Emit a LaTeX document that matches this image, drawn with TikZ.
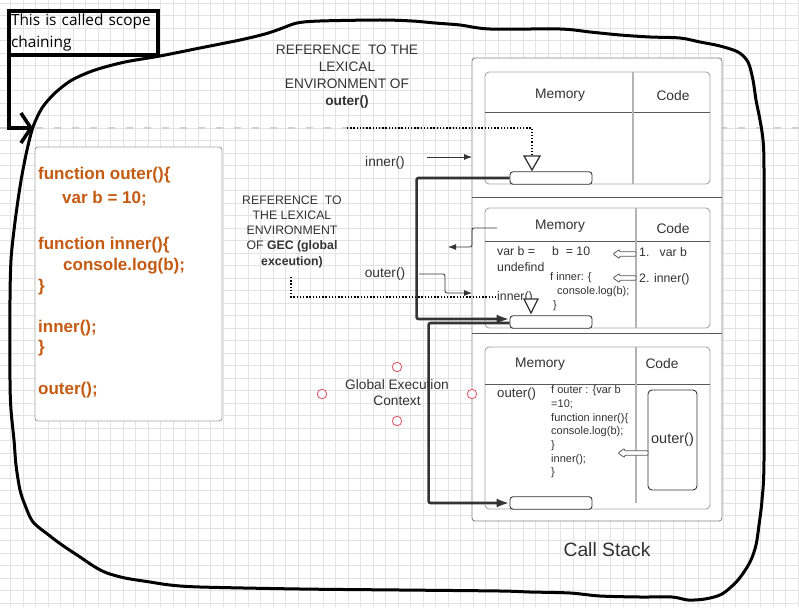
\documentclass[tikz,border=0pt]{standalone}
\usepackage{fontspec}
\setmainfont{Liberation Sans}
\newfontfamily\calloutfont{Open Sans}
\usetikzlibrary{arrows.meta}
\definecolor{gridc}{HTML}{E3E3E3}
\definecolor{txt}{HTML}{333333}
\definecolor{codeor}{HTML}{C55A11}
\definecolor{framec}{HTML}{A6A6A6}
\definecolor{sepc}{HTML}{595959}
\definecolor{divc}{HTML}{B3B3B3}
\definecolor{dark}{HTML}{333333}
\definecolor{ptred}{HTML}{E0606E}
\definecolor{dashc}{HTML}{D0D0D0}
\tikzset{
  lbl/.style={font=\fontsize{13.7}{16.8}\selectfont, text=txt, align=center, inner sep=0pt},
  reflbl/.style={font=\fontsize{12.3}{15.25}\selectfont, text=txt, align=center, inner sep=0pt},
  hdr/.style={font=\fontsize{13.8}{16}\selectfont, text=txt, inner sep=0pt},
  memtxt/.style={font=\fontsize{12.3}{16}\selectfont, text=txt, align=left, anchor=west, inner sep=0pt},
  smalltxt/.style={font=\fontsize{11}{13.7}\selectfont, text=txt, align=left, anchor=west, inner sep=0pt},
  codetxt/.style={font=\bfseries\fontsize{17}{21}\selectfont, text=codeor, anchor=west, inner sep=0pt, text height=12.2pt, text depth=3.6pt},
  codebox/.style={draw=framec, line width=0.9pt, rounded corners=3pt, fill=white, minimum width=187pt, minimum height=274pt, inner sep=0pt},
  stackframe/.style={draw=framec, line width=0.9pt, rounded corners=4pt, fill=white},
  pill/.style={draw=dark, line width=0.9pt, rounded corners=3pt, fill=white, minimum width=82pt, minimum height=12.5pt, inner sep=0pt},
  tri/.style={draw=dark, line width=1.3pt, fill=white, line join=miter},
  thickconn/.style={draw=dark, line width=2.6pt, rounded corners=2pt, -{Latex[length=13pt,width=9pt]}},
  thinconn/.style={draw=dark, line width=0.8pt, rounded corners=2pt, -{Latex[length=8pt,width=6pt]}},
  dotconn/.style={draw=black, line width=1.3pt, dash pattern=on 1.3pt off 1.9pt},
  cpoint/.style={circle, draw=ptred, line width=0.9pt, fill=white, minimum size=9.5pt, inner sep=0pt},
  hollowarr/.style={draw=sepc, line width=0.8pt, fill=white, rounded corners=0.8pt, line join=round},
  handline/.style={draw=black, line width=3pt, line join=round, line cap=round},
  callbox/.style={draw=black, line width=4pt, minimum width=149pt, minimum height=44pt, inner sep=0pt, anchor=north west},
  callarrow/.style={draw=black, line width=4pt, -{Straight Barb[length=10pt,width=30pt,line width=3.5pt]}},
}
\begin{document}
\begin{tikzpicture}[x=1pt,y=-1pt]
\useasboundingbox (0,0) rectangle (799,607);
\fill[white] (0,0) rectangle (799,607);
% grid
\foreach \k in {0,...,63} \draw[gridc, line width=0.8pt] ({10.5+\k*12.5},0) -- ({10.5+\k*12.5},607);
\foreach \k in {0,...,48} \draw[gridc, line width=0.8pt] (0,{3+\k*12.5}) -- (799,{3+\k*12.5});
\draw[dashc, line width=1.5pt, dash pattern=on 7pt off 11pt] (0,128) -- (799,128);

% left code box
\node[codebox] (codebox) at (128.5,284) {};
\node[codetxt] (code1) at (38,175) {function outer()\{};
\node[codetxt] (code2) at (62,199) {var b = 10;};
\node[codetxt] (code3) at (38,245) {function inner()\{};
\node[codetxt] (code4) at (63,266) {console.log(b);};
\node[codetxt] (code5) at (38,287) {\}};
\node[codetxt] (code6) at (38,328) {inner();};
\node[codetxt] (code7) at (38,348) {\}};
\node[codetxt] (code8) at (38,390) {outer();};

% call stack
\draw[draw=framec!80!black, line width=0.9pt, fill=white, rounded corners=3pt] (472,58) rectangle (722,521);
\draw[sepc, line width=0.9pt] (472,197) -- (722,197) (472,333) -- (722,333);
% frame 1
\draw[stackframe] (485,72) rectangle (710,184);
\draw[sepc, line width=0.9pt] (485,112) -- (710,112);
\draw[divc, line width=1.2pt] (633,72) -- (633,184);
\node[hdr] (mem1) at (560,95) {Memory};
\node[hdr] (code1h) at (673,96) {Code};
% frame 2
\draw[stackframe] (485,208) rectangle (710,328);
\draw[sepc, line width=0.9pt] (485,241) -- (710,241);
\draw[divc, line width=1.2pt] (636,208) -- (636,328);
\node[hdr] (mem2) at (560,226) {Memory};
\node[hdr] (code2h) at (673,229) {Code};
\node[memtxt] (varb) at (497,259) {var b =\\undefind};
\node[memtxt] (b10) at (552,251) {b\ \ = 10};
\node[smalltxt] (finner) at (550,291.5) {f inner: \{\\\hspace*{7pt}console.log(b);\\\hspace*{3pt}\}};
\node[memtxt] (c1) at (639,252) {1.\ \ \ var b};
\node[memtxt] (c2) at (639,279) {2. inner()};
\node[memtxt] (innermid) at (497,297) {inner()};
\coordinate (ha1) at (613,254);
\draw[hollowarr] (ha1) -- ++(6.5,-4.5) -- ++(0,2.2) -- ++(16.5,0) -- ++(0,4.6) -- ++(-16.5,0) -- ++(0,2.2) -- cycle;
\coordinate (ha2) at (613,278);
\draw[hollowarr] (ha2) -- ++(6.5,-4.5) -- ++(0,2.2) -- ++(16.5,0) -- ++(0,4.6) -- ++(-16.5,0) -- ++(0,2.2) -- cycle;
% frame 3
\draw[stackframe] (485,347) rectangle (710,509);
\draw[sepc, line width=0.9pt] (485,384) -- (710,384);
\draw[divc, line width=1.2pt] (636,347) -- (636,503);
\node[hdr] (mem3) at (540,364) {Memory};
\node[hdr] (code3h) at (662,364) {Code};
\node[memtxt, font=\fontsize{13.2}{16}\selectfont] (outerm) at (497,394) {outer()};
\node[smalltxt] (fouter) at (551,432) {f outer : \{var b\\=10;\\function inner()\{\\console.log(b);\\\}\\inner();\\\}};
\node[draw=dark, line width=0.9pt, rounded corners=4pt, minimum width=49pt, minimum height=100pt, font=\fontsize{14.5}{16}\selectfont, text=txt, inner sep=0pt] (obox) at (672.5,440) {outer()};
\coordinate (ha3) at (618,453);
\draw[hollowarr] (ha3) -- ++(6.5,-4.5) -- ++(0,2.2) -- ++(23.5,0) -- ++(0,4.6) -- ++(-23.5,0) -- ++(0,2.2) -- cycle;

% pills
\node[pill] (pillA) at (551,178) {};
\node[pill] (pillB) at (551,322) {};
\node[pill] (pillC) at (551,503) {};

% labels
\node[lbl] (refA) at (347,76.5) {REFERENCE\ \ TO THE\\LEXICAL\\ENVIRONMENT OF\\\textbf{outer()}};
\node[reflbl] (refB) at (292,231.5) {REFERENCE\ \ TO\\THE LEXICAL\\ENVIRONMENT\\OF \textbf{GEC (global}\\\textbf{exceution)}};
\node[lbl] (gec) at (397,392.5) {Global Execution\\Context};
\node[lbl] (innerlbl) at (385,163) {inner()};
\node[lbl] (outerlbl) at (385,274) {outer()};
\node[font=\fontsize{19.3}{22}\selectfont, text=txt, inner sep=0pt] (cs) at (607,550) {Call Stack};

% dotted references
\coordinate (refAend) at (347,128);
\coordinate (triAtop) at (532,156);
\draw[dotconn] (refAend) -| (triAtop);
\coordinate (refBend) at (291,277);
\draw[dotconn] (refBend) |- (innermid.west);
\draw[tri] (triAtop) ++(-8,0) -- ++(16,0) -- ++(-8,14) -- cycle;
\coordinate (triBtop) at (531,299);
\draw[tri] (triBtop) ++(-7,0) -- ++(14,0) -- ++(-7,14) -- cycle;

% thin connectors
\coordinate (inS) at (427,157); \coordinate (inE) at (472,157);
\draw[thinconn] (inS) -- (inE);
\coordinate (outS) at (419,274); \coordinate (outE) at (472,293);
\draw[thinconn] (outS) -- ++(26,0) |- (outE);
\coordinate (bkS) at (497,228); \coordinate (bkE) at (448,247);
\draw[thinconn] (bkS) -- ++(-25,0) |- (bkE);

% thick connectors
\draw[thickconn] ([yshift=-1pt]pillB.west) -- ++(-81,0) |- (pillC.west);
\draw[thickconn] (pillA.west) -- ++(-93,0) |- ([yshift=3pt]pillB.west);

% connection points
\node[cpoint] (p1) at (397,367) {};
\node[cpoint] (p2) at (322,394) {};
\node[cpoint] (p3) at (472,394) {};
\node[cpoint] (p4) at (397,421) {};

% callout
\node[callbox, font=\calloutfont\fontsize{15.4}{22}\selectfont, text width=145pt, align=left] (callout) at (7,9) {This is called scope\\chaining};
\coordinate (tipc) at (33,128);
\draw[callarrow] ([xshift=1.5pt]callout.south west) |- (tipc);

% hand drawn loop
\draw[handline] plot[smooth cycle, tension=0.5] coordinates {
(10,300) (11,260) (14,230) (18,200) (22,175) (27,150) (33,127) (42,108) (55,93) (72,80) (95,70) (125,62) (160,56) (200,48) (240,40) (265,34) (280,29)
(297,23) (320,21) (380,20) (412,21) (435,23) (460,25) (490,29) (560,29) (590,32) (620,35) (650,37) (680,38) (700,42) (720,46) (738,52) (748,62) (753,80) (756,100) (760,120) (763,140) (764,170)
(764,300) (764,460) (762,500) (759,525) (756,545) (750,562) (738,580) (722,594) (705,599) (688,600) (672,597) (640,597) (600,596) (570,593) (530,592) (500,591)
(400,590) (300,589) (200,587) (170,585) (150,582) (125,578) (107,573) (95,567) (80,557) (62,545) (50,536) (33,522) (25,505) (20,490) (16,465) (14,440) (11,410) (10,380)};
\end{tikzpicture}
\end{document}
